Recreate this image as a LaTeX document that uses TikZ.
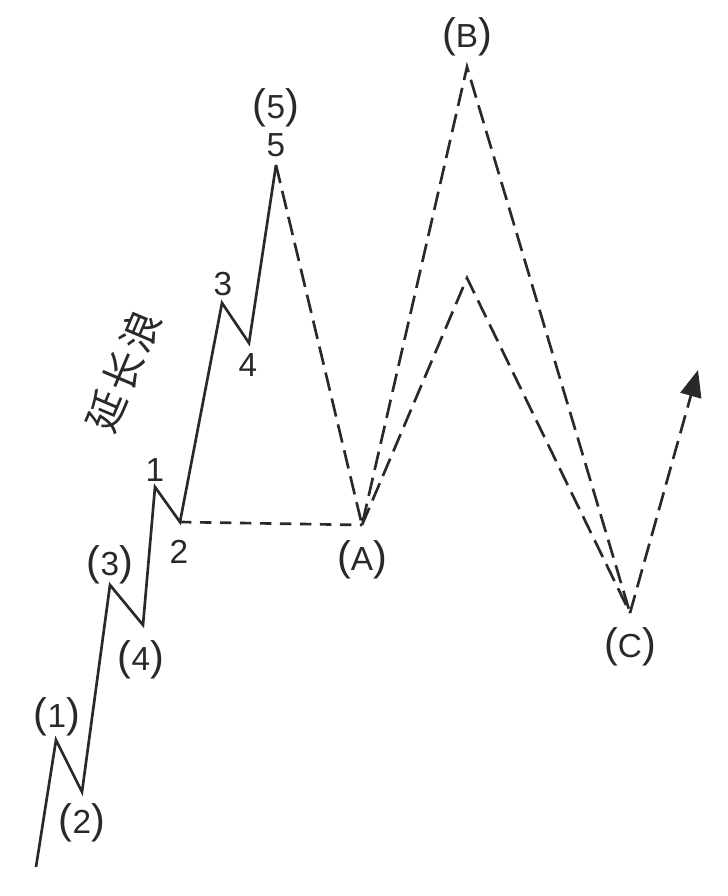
\documentclass[tikz,border=0pt]{standalone}
\usepackage{fontspec}
\setmainfont{Liberation Sans}
\newfontfamily\cjk[LetterSpace=8]{Noto Sans CJK SC}
\usepackage{tikz}
\usetikzlibrary{arrows.meta,positioning}
\definecolor{ink}{rgb}{0.16,0.16,0.16}
\newcommand\bigparen[1]{{\fontsize{31pt}{31pt}\selectfont#1}}
\newcommand\wv[1]{\bigparen{(}#1\bigparen{)}}

\begin{document}
\begin{tikzpicture}[x=0.75pt,y=-0.75pt,line width=2pt,draw=ink,text=ink]
  \tikzstyle{wave}=[line join=miter]
  \tikzstyle{guess}=[dash pattern=on 14pt off 6pt,line join=miter]
  \tikzstyle{level}=[dash pattern=on 8.5pt off 6.5pt]
  \tikzstyle{tag}=[inner sep=0pt,font=\fontsize{25pt}{25pt}\selectfont]
  \useasboundingbox (0,0) rectangle (728,896);
  % turning points
  \coordinate (s) at (36,867);
  \coordinate (p1) at (56,740);
  \coordinate (p2) at (82,792);
  \coordinate (p3) at (110,585);
  \coordinate (p4) at (143,625);
  \coordinate (q1) at (155,487);
  \coordinate (q2) at (180,522);
  \coordinate (q3) at (222,303);
  \coordinate (q4) at (249,343);
  \coordinate (q5) at (276,165);
  \coordinate (a) at (362,525);
  \coordinate (b) at (467,67);
  \coordinate (bb) at (467,278);
  \coordinate (c) at (630,613);
  \coordinate (up) at (698,370);
  % impulse
  \draw[wave] (s) -- (p1) -- (p2) -- (p3) -- (p4) -- (q1) -- (q2)
    -- (q3) -- (q4) -- (q5);
  % correction
  \draw[guess] (q5) -- (a) -- (b) -- (c);
  \draw[guess] (a) -- (bb) -- (c);
  \draw[guess,-{Triangle[length=20pt,width=16pt]}] (c) -- (up);
  \draw[level] (q2) -- (a);
  % labels
  \node[tag] (l1) at (57,717) {\wv{1}};
  \node[tag] (l2) at (82,823) {\wv{2}};
  \node[tag] (l3) at (110,565) {\wv{3}};
  \node[tag] (l4) at (141,660) {\wv{4}};
  \node[tag] (m1) at (155,470) {1};
  \node[tag] (m2) at (179,552) {2};
  \node[tag] (m3) at (223,284) {3};
  \node[tag] (m4) at (248,365) {4};
  \node[tag] (m5) at (276,145) {5};
  \node[tag] (l5) at (276,108) {\wv{5}};
  \node[tag] (la) at (362,560) {\wv{A}};
  \node[tag] (lb) at (467,37) {\wv{B}};
  \node[tag] (lc) at (630,647) {\wv{C}};
  \node[inner sep=0pt,rotate=67,font=\cjk\fontsize{30pt}{30pt}\selectfont] (ext) at (123,371) {延长浪};
\end{tikzpicture}
\end{document}
